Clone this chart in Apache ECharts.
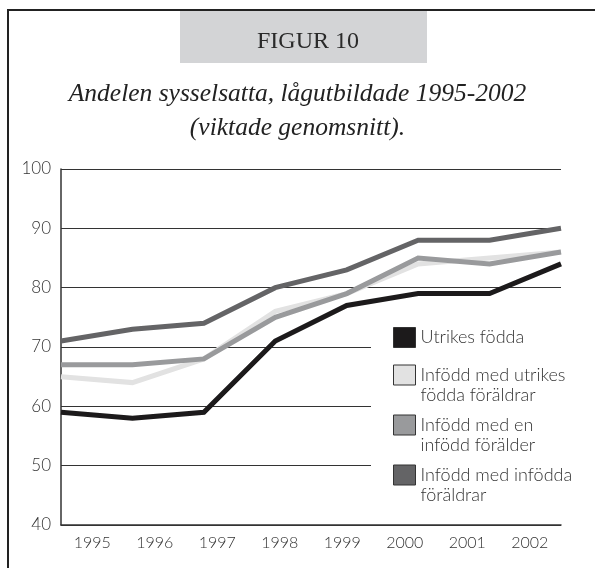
<!DOCTYPE html>
<html>
<head>
<meta charset="utf-8">
<script src="https://cdn.jsdelivr.net/npm/echarts@6/dist/echarts.min.js"></script>
<style>
html, body { margin: 0; padding: 0; background: #fff; }
#chart { width: 595px; height: 568px; }
</style>
</head>
<body>
<div id="chart"></div>
<script>
var years = ['1995', '1996', '1997', '1998', '1999', '2000', '2001', '2002'];
var yTicks = [40, 50, 60, 70, 80, 90, 100];

var utrikesFodda = [59, 58, 59, 71, 77, 79, 79, 84];
var infoddUtrikesForaldrar = [65, 64, 68, 76, 79, 84, 85, 86];
var infoddEnInfoddForalder = [67, 67, 68, 75, 79, 85, 84, 86];
var infoddInfoddaForaldrar = [71, 73, 74, 80, 83, 88, 88, 90];

var names = [
	'Utrikes födda',
	'Infödd med utrikes\nfödda föräldrar',
	'Infödd med en\ninfödd förälder',
	'Infödd med infödda\nföräldrar'
];
var colors = ['#1c1a1b', '#e2e2e2', '#999a9c', '#646466'];

var font = 'Lato, "Open Sans", sans-serif';

function lineSeries(name, data, color, z) {
	return {
		name: name,
		type: 'line',
		xAxisIndex: 1,
		data: data,
		symbol: 'none',
		z: z,
		lineStyle: { color: color, width: 5, join: 'miter' },
		itemStyle: { color: color }
	};
}

var legendText = { fontFamily: font, fontSize: 18, fontWeight: 300, color: '#333', lineHeight: 20 };

var myChart = echarts.init(document.getElementById('chart'));

var option = {
	animation: false,
	title: [{
		text: 'FIGUR 10',
		left: 303,
		textAlign: 'center',
		top: 25,
		textStyle: { fontFamily: '"Liberation Serif", serif', fontSize: 24, fontWeight: 'normal', color: '#2a2a2a' }
	}, {
		text: 'Andelen sysselsatta, lågutbildade 1995-2002\n(viktade genomsnitt).',
		left: 'center',
		top: 72,
		textStyle: { fontFamily: '"Liberation Serif", serif', fontSize: 25.5, fontStyle: 'italic', fontWeight: 'normal', color: '#222', lineHeight: 34, align: 'center' }
	}],
	graphic: [{
		type: 'rect',
		z: -1,
		shape: { x: 180, y: 10, width: 247, height: 53 },
		style: { fill: '#d3d4d6' }
	}, {
		type: 'polyline',
		shape: { points: [[8, 568], [8, 10], [595, 10]] },
		style: { stroke: '#222', lineWidth: 2, fill: null }
	}, {
		type: 'rect',
		z: 1,
		shape: { x: 371, y: 312, width: 204, height: 203 },
		style: { fill: '#fff' }
	}],
	legend: [{
		data: [names[0]],
		orient: 'vertical',
		left: 393,
		top: 327,
		padding: 0,
		icon: 'rect',
		itemWidth: 22,
		itemHeight: 20,
		itemGap: 0,
		itemStyle: { borderColor: '#333', borderWidth: 1 },
		textStyle: legendText
	}, {
		data: names.slice(1),
		orient: 'vertical',
		left: 393,
		top: 345,
		padding: 0,
		icon: 'rect',
		itemWidth: 22,
		itemHeight: 20,
		itemGap: -10,
		itemStyle: { borderColor: '#333', borderWidth: 1 },
		formatter: function (name) { return '\n' + name; },
		textStyle: legendText
	}],
	grid: { left: 61, right: 34, top: 169, bottom: 43 },
	xAxis: [{
		type: 'category',
		data: years,
		boundaryGap: true,
		axisLine: { lineStyle: { color: '#333', width: 1.5 } },
		axisTick: { inside: true, length: 8, lineStyle: { color: '#333', width: 1.5 } },
		axisLabel: { fontFamily: font, fontSize: 16, fontWeight: 300, color: '#333', margin: 10 },
		splitLine: { show: false }
	}, {
		type: 'category',
		data: years,
		boundaryGap: false,
		show: false
	}],
	yAxis: {
		type: 'value',
		min: yTicks[0],
		max: yTicks[yTicks.length - 1],
		interval: 10,
		axisLine: { show: true, lineStyle: { color: '#333', width: 1.5 } },
		axisTick: { show: false },
		axisLabel: { fontFamily: font, fontSize: 17, fontWeight: 300, color: '#333', margin: 10 },
		splitLine: { lineStyle: { color: '#333', width: 1 } }
	},
	series: [
		lineSeries(names[0], utrikesFodda, colors[0], 5),
		lineSeries(names[1], infoddUtrikesForaldrar, colors[1], 3),
		lineSeries(names[2], infoddEnInfoddForalder, colors[2], 4),
		lineSeries(names[3], infoddInfoddaForaldrar, colors[3], 2)
	]
};

myChart.setOption(option);
</script>
</body>
</html>
